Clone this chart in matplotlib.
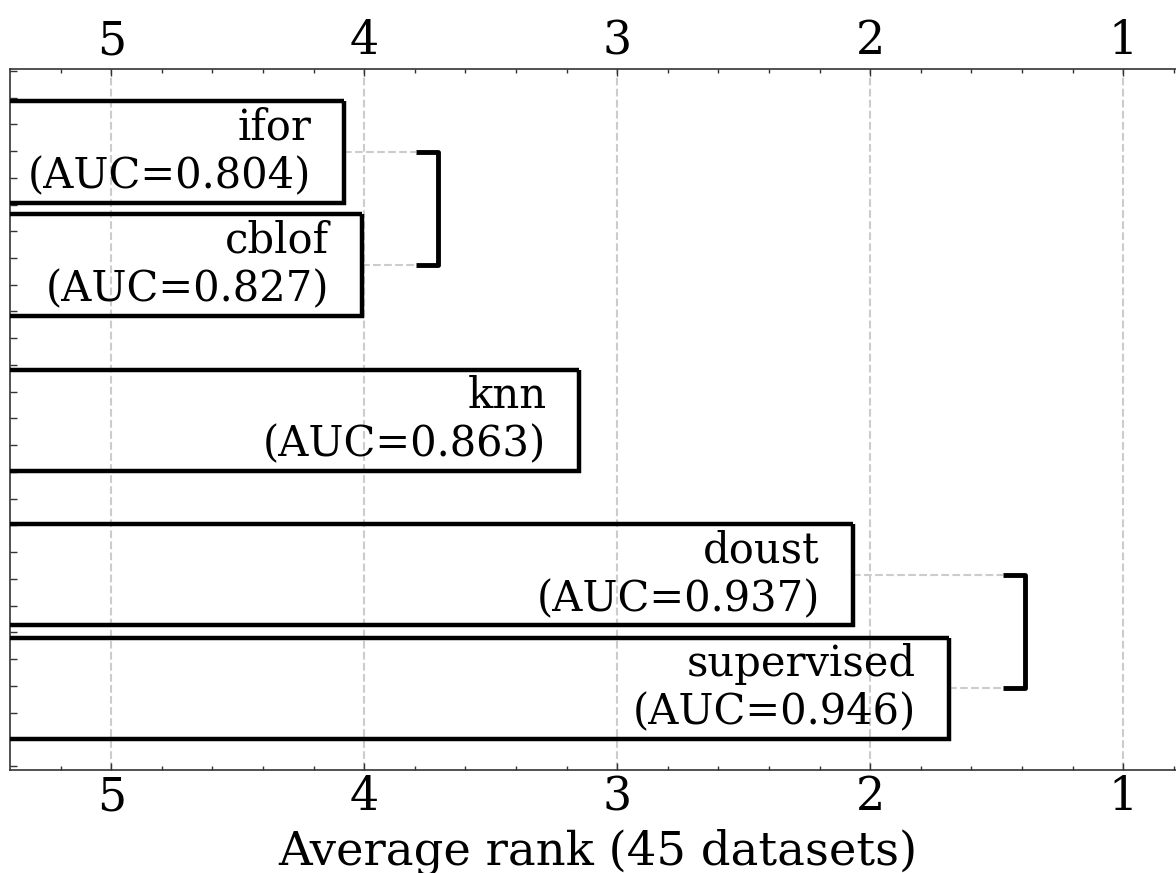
import numpy as np
import matplotlib
matplotlib.use("Agg")
import matplotlib.pyplot as plt

plt.rcParams['font.family'] = ['DejaVu Serif']

methods = ["ifor", "cblof", "knn", "doust", "supervised"]
auc = [0.804, 0.827, 0.863, 0.937, 0.946]
ranks = [4.08, 4.01, 3.15, 2.07, 1.69]
ypos = [3.03, 7.27, 13.07, 18.84, 23.1]
groups = [[0, 1], [3, 4]]  # no significant difference

fig = plt.figure(figsize=(11.76, 8.73), dpi=100)
# axes runs past the right edge of the figure (as in the cropped original)
ax = fig.add_axes([10 / 1176, 1 - 770 / 873, 1176.5 / 1176, 701 / 873])

xleft = 5.4
for r, y, m, a in zip(ranks, ypos, methods, auc):
    ax.barh(y, 6 - r, left=r, height=3.8, fill=False, edgecolor='black',
            linewidth=3.2, zorder=3)
    ax.text(r + 0.13, y, f"{m}\n(AUC={a:.3f})", ha='right', va='center',
            fontsize=30, zorder=4)

# brackets for groups
for g in groups:
    xb = min(ranks[i] for i in g) - 0.3
    arm = 0.085
    for i in g:
        ax.plot([ranks[i], xb + arm], [ypos[i], ypos[i]], color='#cccccc',
                linestyle='--', linewidth=1.5, zorder=2)
    y0, y1 = ypos[g[0]], ypos[g[-1]]
    ax.plot([xb + arm, xb, xb, xb + arm], [y0, y0, y1, y1], color='black',
            linewidth=3.5, solid_capstyle='butt', zorder=3)

ax.set_xlim(xleft, 0.75)
ax.set_ylim(26.15, -0.07)
ax.set_xticks([5, 4, 3, 2, 1])
ax.set_xticks(np.arange(0.8, 5.4, 0.2), minor=True)
ax.set_yticks(np.arange(0, 27, 1))
ax.set_yticklabels([])
ax.tick_params(axis='x', which='both', direction='in', top=True, bottom=True,
               labeltop=True, labelsize=33, length=5, width=1, color='#333333')
ax.tick_params(axis='x', which='minor', length=3)
ax.tick_params(axis='y', direction='in', left=True, right=False, length=5,
               width=1, color='#333333')
ax.grid(axis='x', which='major', color='#cccccc', linestyle='--', linewidth=1.5,
        zorder=0)
ax.set_axisbelow(True)
for s in ax.spines.values():
    s.set_color('#333333')
    s.set_linewidth(1.2)

ax.set_xlabel("Average rank (45 datasets)", fontsize=33.5, labelpad=6)

fig.savefig("out.png", dpi=100)
